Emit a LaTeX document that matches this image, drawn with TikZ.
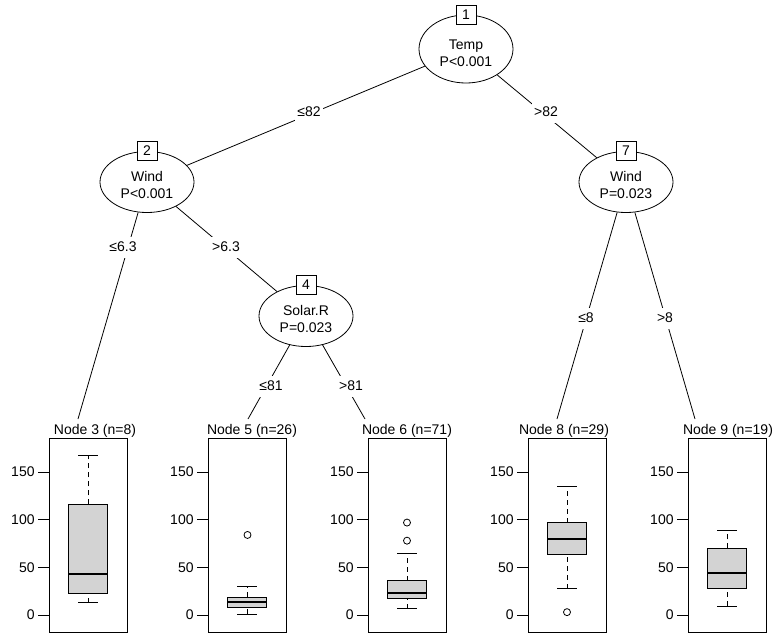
\documentclass[tikz,border=0pt]{standalone}
\usepackage{fontspec}
\setmainfont{Liberation Sans}
\usetikzlibrary{shapes.geometric}
\definecolor{boxgray}{RGB}{211,211,211}
\tikzset{
  innernode/.style={ellipse,draw,fill=white,inner sep=0pt,minimum width=94pt,minimum height=61pt,align=center,text height=33pt},
  idbox/.style={rectangle,draw,fill=white,inner sep=0pt,minimum width=20pt,minimum height=19pt},
  edgelab/.style={fill=white,inner xsep=2pt,inner ysep=0pt,minimum height=21pt},
  termlab/.style={inner sep=0pt,anchor=base},
  whisk/.style={dash pattern=on 5pt off 4pt}
}
% one terminal panel: left x, lower whisker, q1, median, q3, upper whisker
\newcommand{\termpanel}[6]{%
  \draw (#1,438) rectangle ++(78,194);
  \foreach \v in {0,50,100,150}
    \draw (#1,615-0.953*\v) -- ++(-11,0) node[left,inner sep=3pt] {\v};
  \begin{scope}[shift={(#1+39,615)},y={(0pt,0.953pt)}]
    \draw[whisk] (0,#2) -- (0,#3) (0,#5) -- (0,#6);
    \draw (-10,#2) -- (10,#2) (-10,#6) -- (10,#6);
    \draw[fill=boxgray] (-19.5,#3) rectangle (19.5,#5);
    \draw[line width=2.4pt] (-19.5,#4) -- (19.5,#4);
  \end{scope}
}

\begin{document}
\begin{tikzpicture}[x=1pt,y=-1pt,line width=0.8pt,font=\fontsize{14}{16.7}\selectfont]
  \useasboundingbox (0,0) rectangle (774,633);

  % inner nodes
  \node[innernode,minimum height=68pt,text height=35pt] (n1) at (466,49) {Temp\\P<0.001};
  \node[innernode] (n2) at (147,182) {Wind\\P<0.001};
  \node[innernode] (n4) at (306,316) {Solar.R\\P=0.023};
  \node[innernode] (n7) at (626,182) {Wind\\P=0.023};

  % ends of the edges above the terminal panels
  \coordinate (t3) at (78,419);
  \coordinate (t5) at (248,419);
  \coordinate (t6) at (365,419);
  \coordinate (t8) at (557,419);
  \coordinate (t9) at (695,419);

  \draw (n1) -- (n2);
  \draw (n1) -- (n7);
  \draw (n2) -- (t3);
  \draw (n2) -- (n4);
  \draw (n4) -- (t5);
  \draw (n4) -- (t6);
  \draw (n7) -- (t8);
  \draw (n7) -- (t9);

  \node[idbox] (n1id) at (n1.north) {1};
  \node[idbox] (n2id) at (n2.north) {2};
  \node[idbox] (n4id) at (n4.north) {4};
  \node[idbox] (n7id) at (n7.north) {7};

  % edge labels
  \node[edgelab] (e12) at (309,112) {≤82};
  \node[edgelab] (e17) at (546,112) {>82};
  \node[edgelab] (e23) at (123,247) {≤6.3};
  \node[edgelab] (e24) at (226,247) {>6.3};
  \node[edgelab] (e45) at (271,386) {≤81};
  \node[edgelab] (e46) at (351,386) {>81};
  \node[edgelab] (e78) at (586,318) {≤8};
  \node[edgelab] (e79) at (665,318) {>8};

  % terminal nodes
  \node[termlab] (t3lab) at (95,434) {Node 3 (n=8)};
  \node[termlab] (t5lab) at (252,434) {Node 5 (n=26)};
  \node[termlab] (t6lab) at (407,434) {Node 6 (n=71)};
  \node[termlab] (t8lab) at (564,434) {Node 8 (n=29)};
  \node[termlab] (t9lab) at (728,434) {Node 9 (n=19)};

  \termpanel{49}{13}{23}{43}{116}{168}
  \termpanel{208}{1}{7.5}{13.5}{19}{30.5}
  \termpanel{368}{6.5}{17}{23}{36}{65}
  \termpanel{528}{27.5}{64}{80}{97}{135}
  \termpanel{688}{9.5}{28}{44}{70}{89}

  % outliers
  \foreach \x/\v in {247.5/84,407/97,407/78,567/3}
    \draw (\x,615-0.953*\v) circle (3.5pt);
\end{tikzpicture}
\end{document}
